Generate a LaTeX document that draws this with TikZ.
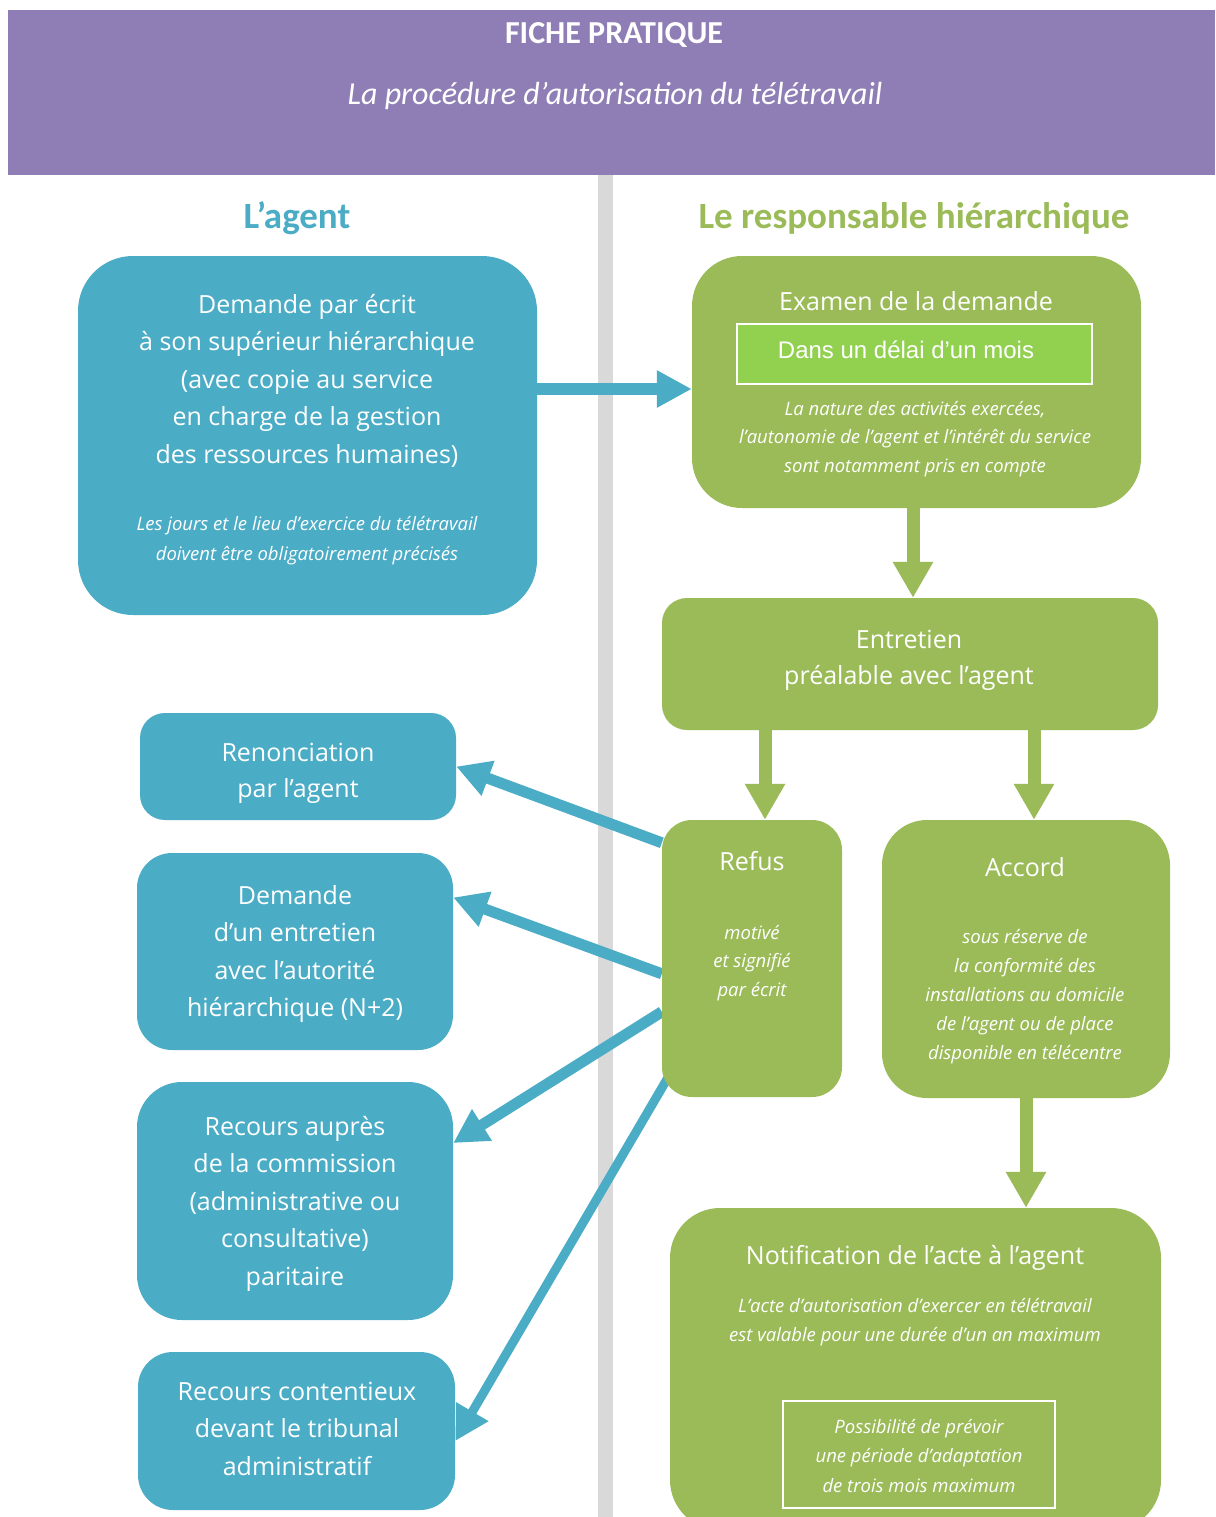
\documentclass[tikz,border=0pt]{standalone}
\usepackage{fontspec}
\setmainfont{Open Sans}
\newfontfamily\carl{Carlito}
\newfontfamily\arialf{Liberation Sans}
\usetikzlibrary{arrows.meta,backgrounds}
\definecolor{cteal}{HTML}{4BACC6}
\definecolor{cgreen}{HTML}{9BBB59}
\definecolor{cpurple}{HTML}{8F7EB5}
\definecolor{cgrey}{HTML}{D9D9D9}
\definecolor{clime}{HTML}{92D050}
\newcommand\boxlines[6]{%
  \foreach \mytxt [count=\myi] in {#6}{%
    \node[#2, anchor=base] (#1-\myi) at ({#3},{#4+(\myi-1)*(#5)}) {\mytxt};}}
\begin{document}
\begin{tikzpicture}[x=1pt,y=-1pt,
  tbox/.style={fill=cteal, draw=none, inner sep=0pt},
  gbox/.style={fill=cgreen, draw=none, inner sep=0pt},
  big/.style={text=white, inner sep=0pt, font=\fontsize{25}{30}\selectfont},
  sml/.style={text=white, inner sep=0pt, font=\fontsize{18.5}{22}\selectfont\itshape},
  tarrow/.style={draw=cteal, line width=11pt, -{Triangle[length=34pt,width=35pt]}},
  garrow/.style={draw=cgreen, line width=13pt, -{Triangle[length=36pt,width=38pt]}}]
\useasboundingbox (0,0) rectangle (1215,1517);
\begin{pgfonlayer}{background}
\fill[white] (0,0) rectangle (1215,1517);
\node[fill=cgrey, minimum width=15pt, minimum height=1342pt, anchor=north west, inner sep=0pt] (divider) at (598,175) {};
\end{pgfonlayer}
% header
\node[fill=cpurple, minimum width=1207pt, minimum height=165pt, anchor=north west, inner sep=0pt] (header) at (8,10) {};
\node[text=white, inner sep=0pt, font=\carl\bfseries\fontsize{32}{36}\selectfont, anchor=base] (title) at (614,44) {FICHE PRATIQUE};
\node[text=white, inner sep=0pt, font=\carl\itshape\fontsize{32}{36}\selectfont, anchor=base] (subtitle) at (615,105) {La procédure d’autorisation du télétravail};
\node[text=cteal, inner sep=0pt, font=\carl\bfseries\fontsize{37}{40}\selectfont, anchor=base] (agent) at (297,228) {L’agent};
\node[text=cgreen, inner sep=0pt, font=\carl\bfseries\fontsize{37}{40}\selectfont, anchor=base] (resp) at (914,229) {Le responsable hiérarchique};
% boxes
\node[tbox, minimum width=459pt, minimum height=359pt, rounded corners=55pt] (dem) at (307.5,435.5) {};
\node[gbox, minimum width=449pt, minimum height=252pt, rounded corners=50pt] (exam) at (916.5,382) {};
\node[fill=clime, draw=white, line width=2pt, minimum width=355pt, minimum height=60pt, inner sep=0pt] (delai) at (914.5,354) {};
\node[gbox, minimum width=496pt, minimum height=132pt, rounded corners=25pt] (entre) at (910,664) {};
\node[gbox, minimum width=180pt, minimum height=277pt, rounded corners=30pt] (refus) at (752,958.5) {};
\node[gbox, minimum width=288pt, minimum height=278pt, rounded corners=45pt] (accord) at (1026,959) {};
\node[gbox, minimum width=491pt, minimum height=322pt, rounded corners=50pt] (notif) at (915.5,1369) {};
\node[draw=white, line width=2pt, minimum width=272pt, minimum height=107pt, inner sep=0pt] (adapt) at (919,1454.5) {};
\node[tbox, minimum width=316pt, minimum height=107pt, rounded corners=25pt] (reno) at (298,766.5) {};
\node[tbox, minimum width=316pt, minimum height=197pt, rounded corners=35pt] (dem2) at (295,951.5) {};
\node[tbox, minimum width=316pt, minimum height=238pt, rounded corners=45pt] (rec1) at (295,1201) {};
\node[tbox, minimum width=317pt, minimum height=158pt, rounded corners=35pt] (rec2) at (296.5,1431) {};
% texts
\boxlines{tdem}{big}{307}{313}{37.5}{{Demande par écrit},{à son supérieur hiérarchique},{(avec copie au service},{en charge de la gestion},{des ressources humaines)}}
\boxlines{tdems}{sml}{307}{530}{30}{{Les jours et le lieu d’exercice du télétravail},{doivent être obligatoirement précisés}}
\boxlines{texam}{big}{916}{310}{30}{{Examen de la demande}}
\node[text=white, inner sep=0pt, font=\arialf\fontsize{24}{28}\selectfont, anchor=base] (tdelai) at (906,358) {Dans un délai d’un mois};
\boxlines{texams}{sml}{915}{415}{28.5}{{La nature des activités exercées,},{l’autonomie de l’agent et l’intérêt du service},{sont notamment pris en compte}}
\boxlines{tentre}{big}{909}{648}{36}{{Entretien},{préalable avec l’agent}}
\boxlines{trefus}{big}{752}{870}{30}{{Refus}}
\boxlines{trefuss}{sml}{752}{939}{28.5}{{motivé},{et signifié},{par écrit}}
\boxlines{taccord}{big}{1025}{876}{30}{{Accord}}
\boxlines{taccords}{sml}{1025}{943}{29}{{sous réserve de},{la conformité des},{installations au domicile},{de l’agent ou de place},{disponible en télécentre}}
\boxlines{tnotif}{big}{915}{1264}{30}{{Notification de l’acte à l’agent}}
\boxlines{tnotifs}{sml}{915}{1312}{29}{{L’acte d’autorisation d’exercer en télétravail},{est valable pour une durée d’un an maximum}}
\boxlines{tadapt}{sml}{919}{1433}{29.5}{{Possibilité de prévoir},{une période d’adaptation},{de trois mois maximum}}
\boxlines{treno}{big}{298}{761}{36}{{Renonciation},{par l’agent}}
\boxlines{tdem2}{big}{295}{904}{37.5}{{Demande},{d’un entretien},{avec l’autorité},{hiérarchique (N+2)}}
\boxlines{trec1}{big}{295}{1135}{37.5}{{Recours auprès},{de la commission},{(administrative ou},{consultative)},{paritaire}}
\boxlines{trec2}{big}{297}{1400}{37.5}{{Recours contentieux},{devant le tribunal},{administratif}}
% arrows
\begin{pgfonlayer}{background}
\coordinate (ein) at ([yshift=-7pt]exam.west);
\draw[tarrow, line width=12pt, -{Triangle[length=35pt,width=35pt]}] (dem.east |- ein) -- (ein);
\coordinate (e1) at ([xshift=-3.5pt]exam.south);
\draw[garrow] (e1) -- (e1 |- entre.north);
\coordinate (e2) at (765,730);
\draw[garrow] (e2) -- (e2 |- refus.north);
\coordinate (e3) at (1034,730);
\draw[garrow] (e3) -- (e3 |- accord.north);
\draw[garrow] (accord.south) -- (accord.south |- notif.north);
\draw[tarrow] ([yshift=-23pt]refus.north west) -- (reno.east);
\draw[tarrow] ([yshift=-154pt]refus.north west) -- ([yshift=54pt]dem2.east);
\draw[tarrow] ([yshift=-192pt]refus.north west) -- ([yshift=58pt]rec1.east);
\draw[tarrow, line width=9pt] ([xshift=6pt,yshift=-258pt]refus.north west) -- ([yshift=-10pt]rec2.east);
\end{pgfonlayer}
\end{tikzpicture}
\end{document}
